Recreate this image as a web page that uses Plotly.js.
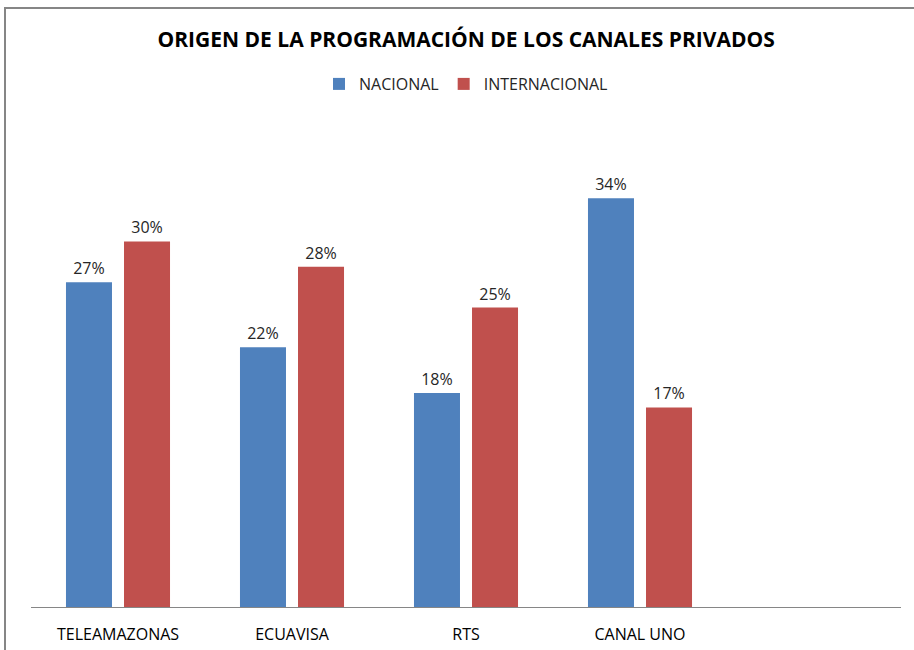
<!DOCTYPE html>
<html>
<head>
<meta charset="utf-8">
<script src="https://cdn.plot.ly/plotly-3.0.1.min.js"></script>
<style>html,body{margin:0;padding:0;background:#fff;}#chart{width:914px;height:650px;}</style>
</head>
<body>
<div id="chart"></div>
<script>
const categories = ['TELEAMAZONAS', 'ECUAVISA', 'RTS', 'CANAL UNO'];
const nacional = [27.0, 21.6, 17.8, 34.0];
const internacional = [30.4, 28.3, 24.9, 16.6];
const seriesNames = ['NACIONAL', 'INTERNACIONAL'];
const chartTitle = 'ORIGEN DE LA PROGRAMACIÓN DE LOS CANALES PRIVADOS';

const font = '"Open Sans", Arial, sans-serif';
const labelFont = {family: font, size: 16, color: '#262626'};
const labelTemplate = '%{y:.0f}%';

const traces = [
  {type: 'bar', name: seriesNames[0], x: categories, y: nacional,
   marker: {color: '#4F81BD'}, texttemplate: labelTemplate, textposition: 'outside',
   textfont: labelFont, cliponaxis: false, hoverinfo: 'none'},
  {type: 'bar', name: seriesNames[1], x: categories, y: internacional,
   marker: {color: '#C0504D'}, texttemplate: labelTemplate, textposition: 'outside',
   textfont: labelFont, cliponaxis: false, hoverinfo: 'none'}
];

const layout = {
  width: 914, height: 650,
  margin: {l: 31, r: 13, t: 126, b: 43},
  paper_bgcolor: '#fff', plot_bgcolor: '#fff',
  title: {text: '<b>' + chartTitle + '</b>', font: {family: font, size: 21, color: '#000'},
          x: 0.51, xanchor: 'center', y: 1 - 40/650, yanchor: 'middle', yref: 'container'},
  showlegend: true,
  legend: {orientation: 'h', x: 0.5, xanchor: 'center', y: (607-84)/481, yanchor: 'middle',
           font: {family: font, size: 16, color: '#262626'}, itemwidth: 30, traceorder: 'normal'},
  barmode: 'group', bargap: 0.333, bargroupgap: 0.207,
  xaxis: {type: 'category', range: [-0.5, 4.5], showgrid: false, zeroline: false,
          showline: true, linecolor: '#868686', linewidth: 1,
          ticks: 'outside', ticklen: 13, tickcolor: 'rgba(0,0,0,0)',
          tickfont: {family: font, size: 16, color: '#000'}, fixedrange: true},
  yaxis: {range: [0, 40], visible: false, showgrid: false, zeroline: false, fixedrange: true},
  shapes: [{type: 'path', xref: 'paper', yref: 'paper',
            path: 'M ' + ((5-31)/870) + ' ' + ((607-660)/481) + ' L ' + ((5-31)/870) + ' ' + ((607-8)/481) +
                  ' L ' + ((930-31)/870) + ' ' + ((607-8)/481),
            line: {color: '#868686', width: 2}}]
};

Plotly.newPlot('chart', traces, layout, {displayModeBar: false, staticPlot: true});
</script>
</body>
</html>
